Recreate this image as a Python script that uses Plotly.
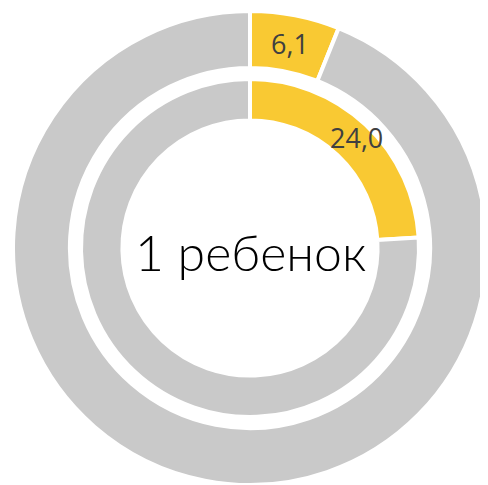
import math
import plotly.graph_objects as go

categories = ["1 ребенок", "другое"]
outer_values = [6.1, 93.9]
inner_values = [24.0, 76.0]
outer_labels = ["6,1", ""]
inner_labels = ["24,0", ""]
center_text = "1 ребенок"

YELLOW = "#F9C933"
GRAY = "#C9C9C9"

W, H = 488, 485
OFF = 8  # page body margin
cx, cy = 250 - OFF, 248 - OFF
R_out, H_out = 237, 0.76
R_in, H_in = 169, 0.755

def dom(r):
    return dict(x=[(cx - r) / W, (cx + r) / W], y=[(H - cy - r) / H, (H - cy + r) / H])

fig = go.Figure()
for vals, R, hole in [(outer_values, R_out, H_out), (inner_values, R_in, H_in)]:
    fig.add_trace(go.Pie(
        values=vals, labels=categories, textinfo="none",
        sort=False, direction="clockwise", rotation=0, hole=hole,
        domain=dom(R),
        marker=dict(colors=[YELLOW, GRAY], line=dict(color="white", width=4)),
        hoverinfo="skip", showlegend=False,
    ))

def add_labels(vals, labels, R, hole, dx=0, dy=0):
    total = sum(vals)
    cum = 0
    for v, t in zip(vals, labels):
        mid = (cum + v / 2) / total * 2 * math.pi
        cum += v
        if not t:
            continue
        rm = R * (1 + hole) / 2
        x = cx + rm * math.sin(mid) + dx
        y = cy - rm * math.cos(mid) + dy
        fig.add_annotation(text=t, x=x / W, y=(H - y) / H, xref="paper", yref="paper",
                           xanchor="center", yanchor="middle", showarrow=False,
                           font=dict(family="Open Sans", size=27, color="#404040"))

add_labels(outer_values, outer_labels, R_out, H_out)
add_labels(inner_values, inner_labels, R_in, H_in, dx=5, dy=-2)

fig.add_annotation(
    text=center_text, x=cx / W, y=(H - cy - 4) / H, xref="paper", yref="paper",
    xanchor="center", yanchor="middle",
    showarrow=False, font=dict(family="Lato", size=50, color="#000000", weight=300),
)
fig.update_layout(
    width=W, height=H, margin=dict(l=0, r=0, t=0, b=0),
    paper_bgcolor="white", plot_bgcolor="white",
)
fig.write_html("out.html")
